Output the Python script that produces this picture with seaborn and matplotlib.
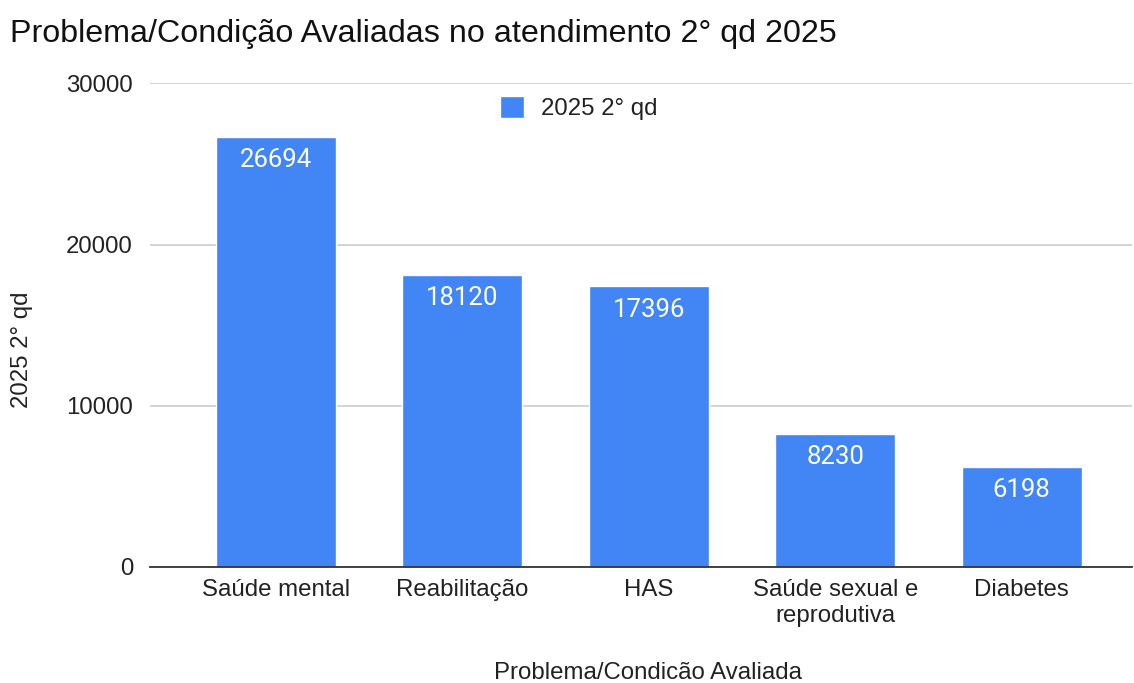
import matplotlib
matplotlib.use('Agg')
import matplotlib.pyplot as plt
import seaborn as sns
import pandas as pd

# ---------- Data ----------
categorias = ['Saúde mental', 'Reabilitação', 'HAS',
              'Saúde sexual e\nreprodutiva', 'Diabetes']
valores = [26694, 18120, 17396, 8230, 6198]
serie = '2025 2° qd'
yticks = [0, 10000, 20000, 30000]

df = pd.DataFrame({'categoria': categorias, 'valor': valores})

# ---------- Style ----------
sns.set_theme(style='white')
plt.rcParams['font.family'] = ['Liberation Sans', 'DejaVu Sans']
azul = '#4285F4'
texto = '#222222'
fs = 17.3

fig = plt.figure(figsize=(11.34, 6.83), dpi=100)
ax = fig.add_axes([0.132, 0.170, 0.866, 0.708])

sns.barplot(data=df, x='categoria', y='valor', color=azul, width=0.644,
            saturation=1, ax=ax, label=serie, zorder=3)

ax.set_ylim(0, 30000)
ax.set_xlim(-0.676, 4.59)
ax.set_yticks(yticks)
ax.set_yticklabels([str(t) for t in yticks], fontsize=fs, color=texto)
ax.tick_params(axis='x', labelsize=fs, colors=texto, length=0, pad=9)
ax.tick_params(axis='y', length=0, pad=12)
ax.yaxis.grid(True, color='#cccccc', linewidth=1.2, zorder=0)
for s in ['top', 'right', 'left']:
    ax.spines[s].set_visible(False)
ax.spines['bottom'].set_color('#333333')
ax.spines['bottom'].set_linewidth(1.3)
ax.spines['bottom'].set_zorder(4)

# rotulos das barras
for i, v in enumerate(valores):
    ax.annotate(str(v), (i, v), xytext=(0, -8), textcoords='offset points',
                ha='center', va='top', color='white', fontsize=18.5,
                family=['Roboto', 'DejaVu Sans'], zorder=5)

ax.set_xlabel('Problema/Condicão Avaliada', fontsize=fs, color=texto)
ax.xaxis.set_label_coords(0.5076, -0.197)
ax.set_ylabel(serie, fontsize=fs, color=texto)
ax.yaxis.set_label_coords(-0.119, 0.45)

leg = ax.legend(loc='center', bbox_to_anchor=(0.437, 0.948), frameon=False,
                fontsize=fs, handlelength=1.0, handleheight=1.0,
                handletextpad=0.7)
for t in leg.get_texts():
    t.set_color(texto)

fig.text(0.009, 0.950, 'Problema/Condição Avaliadas no atendimento 2° qd 2025',
         fontsize=23.2, color='#111111', va='center', ha='left')

fig.savefig('out.png', dpi=100)
plt.close()
